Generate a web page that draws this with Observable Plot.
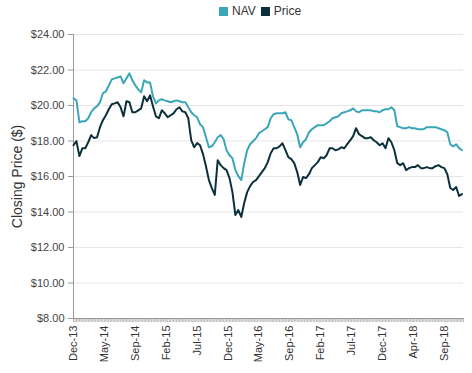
<!DOCTYPE html>
<html>
<head>
<meta charset="utf-8">
<script src="https://cdn.jsdelivr.net/npm/d3@7"></script>
<script src="https://cdn.jsdelivr.net/npm/@observablehq/plot@0.6"></script>
<style>
  body { margin: 0; background: #fff; font-family: "Liberation Sans", Arial, sans-serif; }
  #wrap { width: 472px; height: 373px; position: relative; }
  #legend { height: 22px; display: flex; align-items: center; padding-left: 219px; font-size: 12px; color: #333; }
  .sw { width: 9px; height: 9px; display: inline-block; margin-right: 4px; }
  .item { display: inline-flex; align-items: center; margin-right: 5px; }
</style>
</head>
<body>
<div id="wrap">
  <div id="legend"></div>
  <div id="chart"></div>
</div>
<script>
// Tick labels shown every 21 weekly points
const tickLabels = ["Dec-13","May-14","Sep-14","Feb-15","Jul-15","Dec-15","May-16","Sep-16","Feb-17","Jul-17","Dec-17","Apr-18","Sep-18"];
const tickStep = 21;
const nWeeks = 266;
const seriesNames = ["NAV", "Price"];
const seriesColors = ["#3ba6b8", "#0c303b"];

// Values read every second week
const nav = [20.40,20.29,19.06,19.11,19.11,19.28,19.62,19.84,19.96,20.18,
20.69,20.80,21.13,21.47,21.53,21.58,21.64,21.25,21.53,21.81,
21.42,21.13,20.91,20.74,21.42,21.30,21.30,20.52,20.12,20.29,
20.35,20.29,20.24,20.18,20.24,20.29,20.24,20.18,20.18,19.90,
19.62,19.45,19.34,18.94,18.78,18.21,17.65,17.70,17.93,18.21,
18.33,18.10,17.48,17.20,17.03,16.36,16.02,15.80,16.75,17.48,
17.82,17.99,18.16,18.44,18.55,18.66,18.78,19.28,19.51,19.56,
19.56,19.56,19.62,19.22,19.17,18.78,18.38,17.65,17.93,18.10,
18.49,18.66,18.78,18.89,18.89,18.89,19.00,19.11,19.28,19.34,
19.39,19.56,19.62,19.67,19.73,19.84,19.67,19.62,19.73,19.73,
19.73,19.73,19.67,19.67,19.62,19.73,19.79,19.79,19.90,19.73,
18.83,18.78,18.72,18.72,18.78,18.72,18.72,18.66,18.66,18.66,
18.78,18.78,18.78,18.78,18.72,18.66,18.61,18.49,17.82,17.70,
17.82,17.60,17.48];

const price = [17.76,17.99,17.15,17.59,17.59,17.93,18.33,18.16,18.21,18.78,
19.17,19.45,19.79,20.07,20.12,20.18,19.90,19.39,20.24,20.18,
19.62,19.62,19.73,19.84,20.52,20.24,20.57,19.96,19.39,19.28,
19.73,19.56,19.34,19.45,19.56,19.79,19.90,19.67,19.62,19.28,
18.04,17.65,17.88,17.76,17.26,16.58,15.80,15.35,14.96,16.92,
16.64,16.47,16.36,15.91,15.12,13.83,14.11,13.72,14.51,15.12,
15.46,15.69,15.80,16.02,16.25,16.47,16.81,17.31,17.59,17.59,
17.70,17.87,17.48,17.09,16.98,16.75,16.25,15.52,15.97,15.91,
16.13,16.47,16.64,16.81,17.09,17.03,17.20,17.59,17.59,17.48,
17.53,17.65,17.59,17.82,18.04,18.27,18.72,18.38,18.27,18.16,
18.16,18.21,18.04,17.93,17.76,17.87,17.59,18.16,17.93,17.48,
16.75,16.64,16.75,16.36,16.47,16.53,16.53,16.64,16.47,16.47,
16.53,16.47,16.47,16.58,16.64,16.53,16.47,16.13,15.35,15.24,
15.41,14.90,15.01];

const yTicks = [8,10,12,14,16,18,20,22,24];

const data = nav.map((v, i) => ({week: i * 2, nav: v, price: price[i]}));
const labelTicks = tickLabels.map((_, i) => i * tickStep);

// legend
const legend = document.getElementById("legend");
seriesNames.forEach((name, i) => {
  const it = document.createElement("span");
  it.className = "item";
  it.innerHTML = `<span class="sw" style="background:${seriesColors[i]}"></span>${name}`;
  legend.appendChild(it);
});

const chart = Plot.plot({
  width: 472,
  height: 351,
  marginTop: 12,
  marginLeft: 73,
  marginRight: 9,
  marginBottom: 55,
  style: {fontFamily: "'Liberation Sans', Arial, sans-serif", background: "white", overflow: "visible"},
  x: {domain: [0, nWeeks - 1]},
  y: {domain: [8, 24]},
  marks: [
    Plot.gridY(yTicks, {stroke: "#e6e6e6", strokeOpacity: 1}),
    Plot.axisY(yTicks, {tickSize: 5, tickPadding: 4, fontSize: 11, stroke: "#999", fill: "#444",
      tickFormat: d => "$" + d.toFixed(2), label: null}),
    Plot.axisY({ticks: [], label: "Closing Price ($)", labelAnchor: "center", labelArrow: "none",
      labelOffset: 61, fontSize: 14, fill: "#333", tickSize: 0}),
    Plot.axisX(d3.range(0, nWeeks), {tickSize: 4, stroke: "#aaa", strokeOpacity: 0.8, tickFormat: () => "", label: null}),
    Plot.axisX(labelTicks, {tickSize: 0, tickPadding: 7, tickRotate: -90, fontSize: 11, fill: "#333",
      tickFormat: d => tickLabels[d / tickStep], label: null}),
    Plot.frame({anchor: "left", stroke: "#999"}),
    Plot.frame({anchor: "bottom", stroke: "#999"}),
    Plot.lineY(data, {x: "week", y: "nav", stroke: seriesColors[0], strokeWidth: 2}),
    Plot.lineY(data, {x: "week", y: "price", stroke: seriesColors[1], strokeWidth: 2})
  ]
});
document.getElementById("chart").appendChild(chart);
</script>
</body>
</html>
